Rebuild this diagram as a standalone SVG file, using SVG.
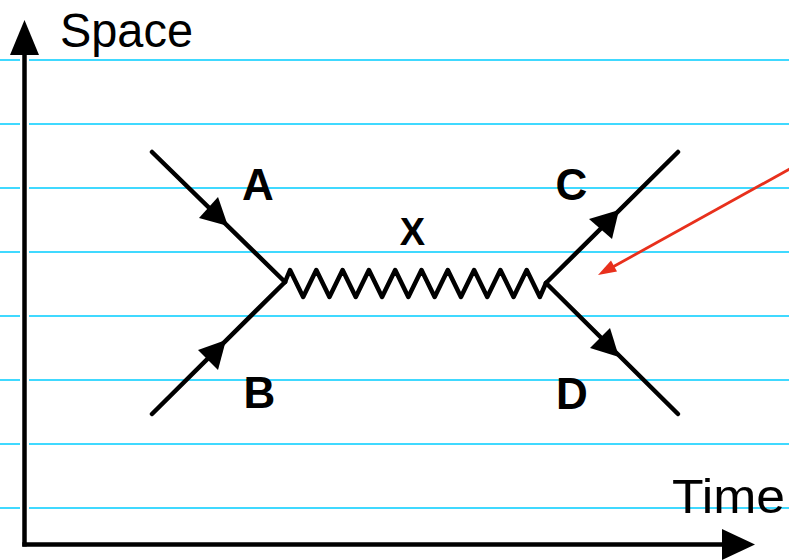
<svg xmlns="http://www.w3.org/2000/svg" width="789" height="560" viewBox="0 0 789 560">
<style>
.rule{stroke:#00ccff;stroke-width:1.5}
.ln{stroke:#000;stroke-width:4.5;fill:none;stroke-linecap:round;stroke-linejoin:round}
.ah{fill:#000}
.lbl{font-family:"Liberation Sans",Arial,sans-serif;fill:#000}
.big{font-size:49px}
.let{font-size:44px;font-weight:bold;text-anchor:middle}
</style>
<rect width="789" height="560" fill="#fff"/>
<g id="ruled-lines">
<line class="rule" x1="0" y1="60" x2="789" y2="60"/>
<line class="rule" x1="0" y1="124" x2="789" y2="124"/>
<line class="rule" x1="0" y1="188" x2="789" y2="188"/>
<line class="rule" x1="0" y1="252" x2="789" y2="252"/>
<line class="rule" x1="0" y1="316" x2="789" y2="316"/>
<line class="rule" x1="0" y1="380" x2="789" y2="380"/>
<line class="rule" x1="0" y1="444" x2="789" y2="444"/>
<line class="rule" x1="0" y1="508" x2="789" y2="508"/>
</g>
<g id="axes">
<line x1="24.5" y1="50" x2="24.5" y2="546" stroke="#fff" stroke-width="9"/>
<line x1="24.5" y1="50" x2="24.5" y2="546.5" stroke="#000" stroke-width="4.5"/>
<line x1="22.3" y1="544.5" x2="730" y2="544.5" stroke="#000" stroke-width="4.5"/>
<polygon class="ah" points="24.5,20 10,55 39,55"/>
<polygon class="ah" points="755,544.5 722,529 722,560"/>
<text class="lbl big" x="60" y="47" textLength="133" lengthAdjust="spacingAndGlyphs">Space</text>
<text class="lbl big" x="672" y="513" textLength="113" lengthAdjust="spacingAndGlyphs">Time</text>
</g>
<g id="connectors">
<g id="line-A">
<line class="ln" x1="152" y1="152" x2="285" y2="282"/>
<polygon class="ah" points="228,226 218,197 199,218"/>
</g>
<g id="line-B">
<line class="ln" x1="152" y1="414" x2="285" y2="282"/>
<polygon class="ah" points="226,340 198,350 218,370"/>
</g>
<g id="line-C">
<line class="ln" x1="546" y1="283" x2="678" y2="152"/>
<polygon class="ah" points="619,210 589,219 612,239"/>
</g>
<g id="line-D">
<line class="ln" x1="546" y1="283" x2="678" y2="414"/>
<polygon class="ah" points="619,357 610,328 590,348"/>
</g>
<g id="wave-X">
<path class="ln" d="M285,282 L290,270 L303.15,297 L316.3,270 L329.45,297 L342.6,270 L355.75,297 L368.9,270 L382.05,297 L395.2,270 L408.35,297 L421.5,270 L434.65,297 L447.8,270 L460.95,297 L474.1,270 L487.25,297 L500.4,270 L513.55,297 L526.7,270 L539.85,297 L546,283"/>
</g>
<g id="red-arrow">
<line x1="795" y1="166" x2="610" y2="268.5" stroke="#e8301c" stroke-width="2.8"/>
<polygon points="598,275 617,271.5 611,260.5" fill="#e8301c"/>
</g>
</g>
<g id="labels">
<text id="label-A" class="lbl let" x="258" y="200">A</text>
<text id="label-B" class="lbl let" x="259.5" y="408">B</text>
<text id="label-C" class="lbl let" x="571.5" y="200">C</text>
<text id="label-D" class="lbl let" x="572" y="409">D</text>
<text id="label-X" class="lbl" x="412.5" y="245" font-size="38" font-weight="bold" text-anchor="middle">X</text>
</g>
</svg>
